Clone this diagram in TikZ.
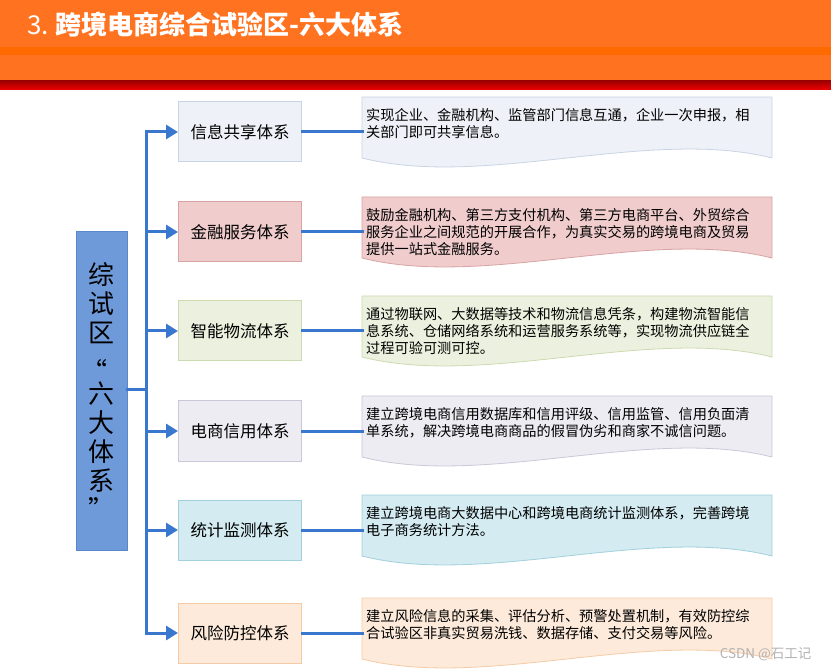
\documentclass[tikz,border=0pt]{standalone}
\usepackage{fontspec}
\setmainfont{Noto Sans CJK SC}
\usetikzlibrary{arrows.meta,positioning,calc}
\definecolor{hd}{HTML}{FF7320}
\definecolor{hdb}{HTML}{FF6A00}
\definecolor{rdt}{HTML}{A00000}
\definecolor{rdb}{HTML}{F00000}
\definecolor{zf}{HTML}{6F9AD9}
\definecolor{zb}{HTML}{5A88CC}
\definecolor{ln}{HTML}{3A78D0}
\definecolor{s1f}{HTML}{EEF1F7}
\definecolor{s1b}{HTML}{C9D4E4}
\definecolor{s2f}{HTML}{F0CCCC}
\definecolor{s2b}{HTML}{D8A3A3}
\definecolor{s3f}{HTML}{EBF1DE}
\definecolor{s3b}{HTML}{CCDAB0}
\definecolor{s4f}{HTML}{EEECF3}
\definecolor{s4b}{HTML}{CBC7D8}
\definecolor{s5f}{HTML}{D3EBF1}
\definecolor{s5b}{HTML}{A2D0DC}
\definecolor{s6f}{HTML}{FDEADA}
\definecolor{s6b}{HTML}{F5CBA6}
\tikzset{
  sysbox/.style={draw, line width=1pt, minimum width=123pt, minimum height=60pt,
    inner sep=0pt, font=\fontsize{16.5}{18}\selectfont},
  desctext/.style={anchor=north west, inner xsep=4pt, inner ysep=0pt, text width=404pt,
    align=left, font=\fontsize{14.2}{17}\selectfont},
  link/.style={draw=ln, line width=3pt, line cap=rect},
  arr/.style={draw=ln, line width=3pt, -{Triangle[length=12pt,width=14pt]}}
}

\begin{document}
\begin{tikzpicture}[x=1pt,y=-1pt]
  \useasboundingbox (0,0) rectangle (831,671);
  \fill[hd] (0,0) rectangle (831,81);
  \fill[hdb] (0,47) rectangle (831,55);
  \shade[top color=rdt, bottom color=rdb] (0,81) rectangle (831,90);
  \node[anchor=west, text=white, font=\bfseries\fontsize{26}{28}\selectfont] (title) at (24,25)
    {{\mdseries 3.}\ 跨境电商综合试验区-六大体系};

  \node[draw=zb, fill=zf, line width=1pt, minimum width=51pt, minimum height=318pt, inner sep=0pt,
    align=center, font=\fontsize{26}{29}\selectfont] (zone) at (101.5,391)
    {综\\试\\区\\\raisebox{-10pt}{\hspace*{-15pt}“}\\六\\大\\体\\系\\”};
  \coordinate (tr) at (146,390);

  \foreach \i/\y/\nm/\tx in {
    1/132/信息共享体系/{实现企业、金融机构、监管部门信息互通，企业一次申报，相\\关部门即可共享信息。},
    2/232/金融服务体系/{鼓励金融机构、第三方支付机构、第三方电商平台、外贸综合\\服务企业之间规范的开展合作，为真实交易的跨境电商及贸易\\提供一站式金融服务。},
    3/331/智能物流体系/{通过物联网、大数据等技术和物流信息凭条，构建物流智能信\\息系统、仓储网络系统和运营服务系统等，实现物流供应链全\\过程可验可测可控。},
    4/431/电商信用体系/{建立跨境电商信用数据库和信用评级、信用监管、信用负面清\\单系统，解决跨境电商商品的假冒伪劣和商家不诚信问题。},
    5/530/统计监测体系/{建立跨境电商大数据中心和跨境电商统计监测体系，完善跨境\\电子商务统计方法。},
    6/633/风险防控体系/{建立风险信息的采集、评估分析、预警处置机制，有效防控综\\合试验区非真实贸易洗钱、数据存储、支付交易等风险。}}{
    \node[sysbox, draw=s\i b, fill=s\i f] (sys\i) at (240,\y) {\nm};
    \path[draw=s\i b, fill=s\i f, line width=0.8pt] (362,\y-35) -- (772,\y-35) -- (772,\y+26)
      .. controls (649,\y-5) and (485,\y+57) .. (362,\y+26) -- cycle;
    \node[desctext] (desc\i) at (362,\y-24) {\tx};
    \draw[arr] (tr |- sys\i.west) -- (sys\i.west);
    \draw[link] (sys\i.east) -- (sys\i.east -| desc\i.west);
  }

  \draw[link] (zone.east |- tr) -- (tr);
  \draw[link] (tr |- sys1.west) -- (tr |- sys6.west);

  \node[anchor=east, text=gray!60, font=\fontsize{13.5}{14}\selectfont] (mark) at (815,654) {CSDN @石工记};
\end{tikzpicture}
\end{document}
